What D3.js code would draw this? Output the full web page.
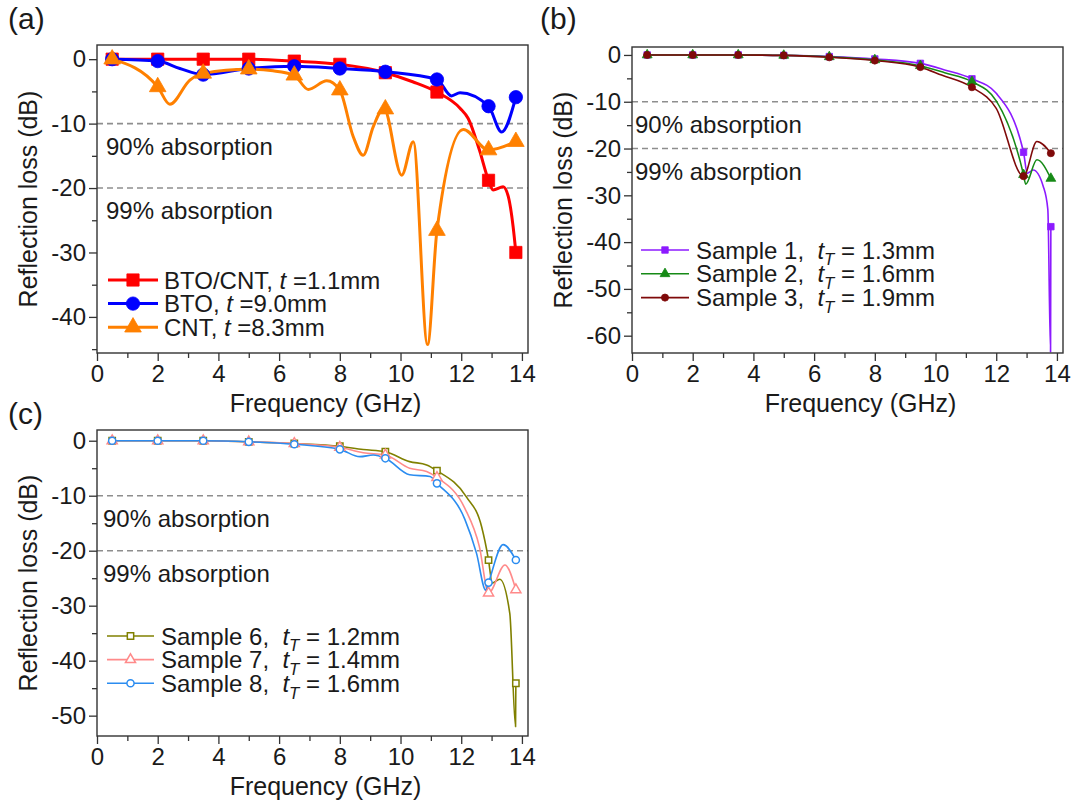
<!DOCTYPE html>
<html><head><meta charset="utf-8">
<script src="https://cdn.jsdelivr.net/npm/d3@7"></script>
<style>
body{margin:0;background:#fff}
svg{display:block}
text{font-family:"Liberation Sans",Arial,Helvetica,sans-serif;fill:#1a1a1a}
</style>
</head><body>
<svg id="chart" width="1077" height="808"></svg>
<script>
// ---------------- DATA ----------------
const xTicks = [0, 2, 4, 6, 8, 10, 12, 14];
const yTicksA = [0, -10, -20, -30, -40];
const yTicksB = [0, -10, -20, -30, -40, -50, -60];
const yTicksC = [0, -10, -20, -30, -40, -50];
const thresholds = [-10, -20];
const thresholdLabels = ["90% absorption", "99% absorption"];

const markerFreq = [0.5, 2, 3.5, 5, 6.5, 8, 9.5, 11.2, 12.9, 13.8];

// Panel (a)
const btoCntMarkers = [0, 0, 0, 0, -0.3, -0.8, -2.1, -5.1, -18.8, -30.0];
const btoCntCurve = [[0.5,0],[2,0],[3.5,0],[5,0],[6.5,-0.3],[8,-0.8],[9.5,-2.1],[10.4,-3.5],[11.2,-5.1],[11.96,-7.6],[12.23,-9.2],[12.6,-14.1],[12.9,-18.8],[13.05,-20.3],[13.38,-19.8],[13.55,-21.3],[13.71,-26],[13.8,-30.0]];
const btoMarkers = [0, -0.3, -2.4, -1.45, -1.1, -1.45, -1.95, -3.15, -7.3, -5.9];
const btoCurve = [[0.5,0],[2,-0.3],[2.73,-1.45],[3.5,-2.4],[5,-1.45],[6.5,-1.1],[8,-1.45],[9.5,-1.95],[11.2,-3.15],[11.68,-5.7],[11.96,-5.2],[12.9,-7.3],[13.33,-11.3],[13.8,-5.9]];
const cntMarkers = [0, -4.3, -2.2, -1.55, -2.5, -4.8, -7.75, -26.6, -14.1, -12.8];
const cntCurve = [[0.5,0],[2,-4.3],[2.4,-7.0],[3.06,-3.25],[3.5,-2.2],[5,-1.55],[5.8,-1.8],[6.5,-2.5],[6.96,-4.7],[7.57,-3.35],[8,-4.8],[8.44,-12.0],[8.77,-14.9],[9.1,-10.5],[9.45,-7.6],[10.04,-18.0],[10.42,-12.8],[10.89,-44.3],[11.2,-26.6],[12.07,-10.9],[12.9,-14.1],[13.8,-12.8]];

// Panel (b)
const sample1Markers = [0, 0, 0, -0.1, -0.35, -0.85, -1.8, -5.1, -20.8, -36.7];
const sample1Curve = [[0.5,0],[2,0],[3.5,0],[5,-0.1],[6.5,-0.35],[8,-0.85],[9.5,-1.8],[10.3,-3.2],[11.2,-5.1],[12.0,-8.2],[12.9,-20.8],[13.02,-25.3],[13.22,-24.6],[13.55,-28.1],[13.7,-33],[13.79,-63.5],[13.8,-36.7]];
const sample2Markers = [0, 0, 0, -0.1, -0.4, -1.05, -2.3, -5.7, -25.6, -26.4];
const sample2Curve = [[0.5,0],[2,0],[3.5,0],[5,-0.1],[6.5,-0.4],[8,-1.05],[9.5,-2.3],[10.3,-3.8],[11.2,-5.7],[12.0,-9.8],[12.9,-25.6],[12.97,-27.6],[13.34,-22.4],[13.8,-26.4]];
const sample3Markers = [0, 0, 0, -0.1, -0.5, -1.2, -2.6, -6.9, -25.9, -21.0];
const sample3Curve = [[0.5,0],[2,0],[3.5,0],[5,-0.1],[6.5,-0.5],[8,-1.2],[9.5,-2.6],[10.2,-4.3],[11.2,-6.9],[12.0,-11.4],[12.9,-25.9],[13.34,-18.5],[13.8,-21.0]];

// Panel (c)
const sample6Markers = [0, 0, 0, -0.2, -0.5, -1.0, -2.0, -5.45, -21.7, -44.1];
const sample6Curve = [[0.5,0],[2,0],[3.5,0],[5,-0.2],[6.5,-0.5],[8,-1.0],[8.77,-1.6],[9.5,-2.0],[10.3,-3.8],[10.86,-4.4],[11.2,-5.45],[12.17,-10.2],[12.67,-15.6],[12.9,-21.7],[13.02,-25.9],[13.27,-25.2],[13.6,-31.4],[13.79,-52],[13.8,-44.1]];
const sample7Markers = [0, 0, 0, -0.2, -0.5, -1.2, -2.6, -6.7, -27.7, -27.1];
const sample7Curve = [[0.5,0],[2,0],[3.5,0],[5,-0.2],[6.5,-0.5],[8,-1.2],[8.77,-2.2],[9.5,-2.6],[10.3,-5.0],[10.86,-5.6],[11.2,-6.7],[12.12,-12.3],[12.6,-19.3],[12.9,-27.7],[13.44,-22.6],[13.8,-27.1]];
const sample8Markers = [0, 0, 0, -0.2, -0.65, -1.57, -3.2, -7.75, -25.8, -21.7];
const sample8Curve = [[0.5,0],[2,0],[3.5,0],[5,-0.2],[6.5,-0.65],[8,-1.57],[8.66,-2.9],[9.1,-2.6],[9.5,-3.2],[10.3,-6.2],[10.97,-6.5],[11.2,-7.75],[12.12,-14.3],[12.5,-20.4],[12.81,-27.2],[12.9,-25.8],[13.38,-18.9],[13.8,-21.7]];

// ---------------- DRAWING ----------------
const svg = d3.select("#chart");
const FONT_TICK = 24, FONT_TITLE = 25, FONT_LEG = 24, FONT_ANN = 24;

function addLegendLabel(t, parts, size) {
  parts.forEach(p => {
    const ts = t.append("tspan").text(p.s);
    if (p.i) ts.attr("font-style", "italic");
    if (p.sub) ts.attr("font-size", size * 0.7).attr("dy", size * 0.28);
    if (p.unsub) ts.attr("dy", -size * 0.28);
  });
}

function drawPanel(cfg) {
  const g = svg.append("g");
  const x = d3.scaleLinear().domain([0, 14.2]).range([cfg.left, cfg.right]);
  const y = d3.scaleLinear().domain(cfg.yDomain).range([cfg.bottom, cfg.top]);

  // threshold dashed lines + annotations
  thresholds.forEach((v, i) => {
    g.append("line").attr("x1", cfg.left).attr("x2", cfg.right)
      .attr("y1", y(v)).attr("y2", y(v))
      .attr("stroke", "#8e8e8e").attr("stroke-width", 1.6).attr("stroke-dasharray", "6,4");
    g.append("text").attr("x", cfg.left + cfg.annDx).attr("y", y(v) + 31)
      .attr("font-size", FONT_ANN).text(thresholdLabels[i]);
  });

  // series curves
  const line = d3.line().x(d => x(d[0])).y(d => y(d[1])).curve(d3.curveMonotoneX);
  const clipId = "clip" + cfg.id;
  g.append("clipPath").attr("id", clipId).append("rect")
    .attr("x", cfg.left).attr("y", cfg.top).attr("width", cfg.right - cfg.left).attr("height", cfg.bottom - cfg.top);
  cfg.series.forEach(s => {
    g.append("path").datum(s.curve).attr("d", line).attr("fill", "none")
      .attr("stroke", s.color).attr("stroke-width", s.lw).attr("stroke-linejoin", "round")
      .attr("clip-path", `url(#${clipId})`);
  });
  cfg.series.forEach(s => {
    const sym = d3.symbol().type(s.symbol).size(s.size);
    g.selectAll(null).data(s.markers.map((v, i) => [markerFreq[i], v])).join("path")
      .attr("d", sym).attr("transform", d => `translate(${x(d[0])},${y(d[1])})`)
      .attr("fill", s.open ? "#fff" : s.color).attr("stroke", s.color).attr("stroke-width", s.open ? 1.5 : 0.8);
  });

  // axes
  const xMaj = d3.axisBottom(x).tickValues(xTicks).tickSize(8).tickPadding(4).tickFormat(d3.format("d"));
  const xMin = d3.axisBottom(x).tickValues([1,3,5,7,9,11,13]).tickSize(5).tickFormat("");
  const yMaj = d3.axisLeft(y).tickValues(cfg.yTicks).tickSize(8).tickPadding(3).tickFormat(d => d3.format("d")(d).replace("−", "-"));
  const minors = [];
  for (let v = -5; v > cfg.yDomain[0]; v -= 10) minors.push(v);
  const yMin = d3.axisLeft(y).tickValues(minors).tickSize(5).tickFormat("");
  [[xMaj, "b"], [xMin, "b"], [yMaj, "l"], [yMin, "l"]].forEach(([ax, side]) => {
    const a = g.append("g")
      .attr("transform", side === "b" ? `translate(0,${cfg.bottom})` : `translate(${cfg.left},0)`)
      .call(ax);
    a.select(".domain").remove();
    a.selectAll("line").attr("stroke", "#333").attr("stroke-width", 1.3);
    a.selectAll("text").attr("font-size", FONT_TICK).attr("fill", "#1a1a1a")
      .attr("font-family", '"Liberation Sans",Arial,sans-serif');
  });

  // frame
  g.append("rect").attr("x", cfg.left).attr("y", cfg.top)
    .attr("width", cfg.right - cfg.left).attr("height", cfg.bottom - cfg.top)
    .attr("fill", "none").attr("stroke", "#333").attr("stroke-width", 1.4);

  // axis titles
  g.append("text").attr("x", (cfg.left + cfg.right) / 2 + 13).attr("y", cfg.bottom + 59)
    .attr("text-anchor", "middle").attr("font-size", FONT_TITLE).text("Frequency (GHz)");
  g.append("text").attr("transform", `translate(${cfg.left - 60},${(cfg.top + cfg.bottom) / 2}) rotate(-90)`)
    .attr("text-anchor", "middle").attr("font-size", FONT_TITLE).text("Reflection loss (dB)");

  // panel label
  g.append("text").attr("x", cfg.labelX).attr("y", cfg.labelY).attr("font-size", 30).text(cfg.label);

  // legend
  const L = cfg.legend;
  cfg.series.forEach((s, i) => {
    const cy = L.y0 + i * L.dy;
    g.append("line").attr("x1", L.x1).attr("x2", L.x2).attr("y1", cy).attr("y2", cy)
      .attr("stroke", s.color).attr("stroke-width", s.lw);
    g.append("path").attr("d", d3.symbol().type(s.symbol).size(s.size)())
      .attr("transform", `translate(${(L.x1 + L.x2) / 2},${cy})`)
      .attr("fill", s.open ? "#fff" : s.color).attr("stroke", s.color).attr("stroke-width", s.open ? 1.5 : 0.8);
    const t = g.append("text").attr("x", L.tx).attr("y", cy + FONT_LEG * 0.36).attr("font-size", FONT_LEG);
    addLegendLabel(t, s.label, FONT_LEG);
  });
}

function sampleLabel(n, tt) {
  return [{s: `Sample ${n},\u00a0 `}, {s: "t", i: true}, {s: "T", i: true, sub: true}, {s: ` = ${tt}mm`, unsub: true}];
}

drawPanel({
  id: "a", label: "(a)", labelX: 8, labelY: 29,
  left: 97, right: 528, top: 45, bottom: 353, yDomain: [-45.6, 2.2], yTicks: yTicksA, annDx: 9,
  legend: {x1: 108, x2: 158, tx: 164, y0: 280, dy: 23.6},
  series: [
    {color: "#ff0000", lw: 3, symbol: d3.symbolSquare, size: 150, curve: btoCntCurve, markers: btoCntMarkers,
     label: [{s: "BTO/CNT, "}, {s: "t", i: true}, {s: " =1.1mm"}]},
    {color: "#0000ff", lw: 3, symbol: d3.symbolCircle, size: 140, curve: btoCurve, markers: btoMarkers,
     label: [{s: "BTO, "}, {s: "t", i: true}, {s: " =9.0mm"}]},
    {color: "#ff8000", lw: 3, symbol: d3.symbolTriangle, size: 120, curve: cntCurve, markers: cntMarkers,
     label: [{s: "CNT, "}, {s: "t", i: true}, {s: " =8.3mm"}]}
  ]
});

drawPanel({
  id: "b", label: "(b)", labelX: 540, labelY: 29,
  left: 632, right: 1063, top: 47, bottom: 353, yDomain: [-63.7, 1.7], yTicks: yTicksB, annDx: 3,
  legend: {x1: 641, x2: 689, tx: 696, y0: 250, dy: 23.8},
  series: [
    {color: "#8c1aff", lw: 1.6, symbol: d3.symbolSquare, size: 42, curve: sample1Curve, markers: sample1Markers, label: sampleLabel(1, "1.3")},
    {color: "#168a16", lw: 1.6, symbol: d3.symbolTriangle, size: 42, curve: sample2Curve, markers: sample2Markers, label: sampleLabel(2, "1.6")},
    {color: "#7f0a0a", lw: 1.6, symbol: d3.symbolCircle, size: 40, curve: sample3Curve, markers: sample3Markers, label: sampleLabel(3, "1.9")}
  ]
});

drawPanel({
  id: "c", label: "(c)", labelX: 8, labelY: 424,
  left: 97, right: 528, top: 430, bottom: 736, yDomain: [-53.7, 1.95], yTicks: yTicksC, annDx: 6,
  legend: {x1: 107, x2: 154, tx: 161, y0: 636, dy: 23.6},
  series: [
    {color: "#808000", lw: 1.6, symbol: d3.symbolSquare, size: 40, open: true, curve: sample6Curve, markers: sample6Markers, label: sampleLabel(6, "1.2")},
    {color: "#ff8a8a", lw: 1.6, symbol: d3.symbolTriangle, size: 44, open: true, curve: sample7Curve, markers: sample7Markers, label: sampleLabel(7, "1.4")},
    {color: "#2b8cf0", lw: 1.6, symbol: d3.symbolCircle, size: 40, open: true, curve: sample8Curve, markers: sample8Markers, label: sampleLabel(8, "1.6")}
  ]
});
</script>
</body></html>
